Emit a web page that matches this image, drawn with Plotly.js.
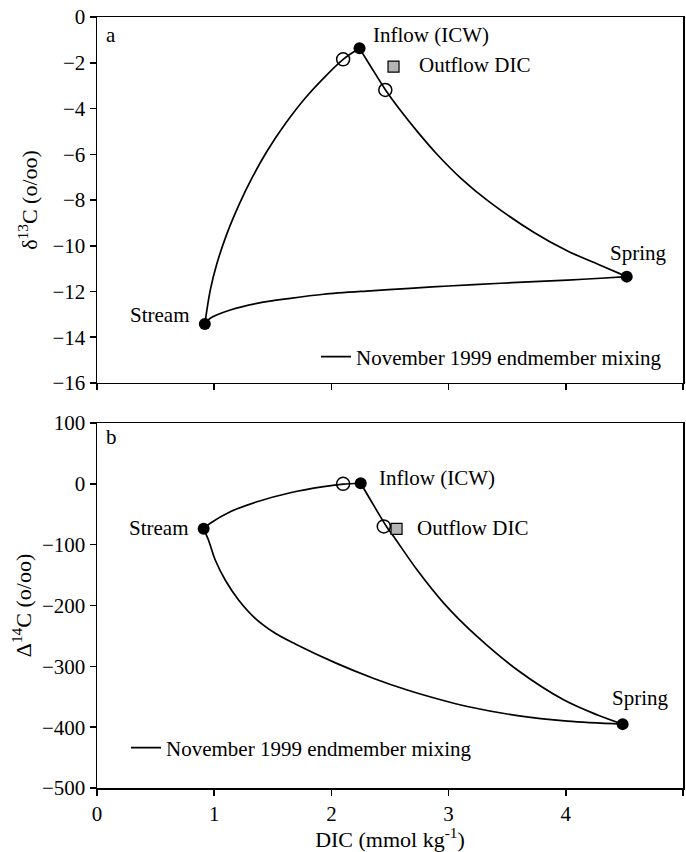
<!DOCTYPE html>
<html>
<head>
<meta charset="utf-8">
<script src="https://cdn.plot.ly/plotly-3.0.1.min.js"></script>
<style>html,body{margin:0;padding:0;background:#fff;}</style>
</head>
<body>
<div id="chart" style="width:686px;height:852px;"></div>
<script>
// ---------- Panel a: delta13C vs DIC ----------
const endNames = ["Stream", "Inflow (ICW)", "Spring"];
const a_endDIC = [0.92, 2.24, 4.52];
const a_endD13C = [-13.42, -1.37, -11.35];
const a_openDIC = [2.10, 2.46];
const a_openD13C = [-1.85, -3.19];
const a_outDIC = [2.53];
const a_outD13C = [-2.17];

// mixing curves
const a_streamInflowDIC = [0.92, 0.966, 1.023, 1.108, 1.214, 1.326, 1.452, 1.608, 1.781, 1.955, 2.111, 2.24];
const a_streamInflowD13C = [-13.42, -11.95, -10.78, -9.48, -8.18, -7.00, -5.86, -4.66, -3.52, -2.56, -1.81, -1.37];
const a_streamSpringDIC = [0.92, 0.966, 1.137, 1.365, 1.650, 1.934, 2.333, 2.67, 3.0, 3.444, 3.729, 4.015, 4.299, 4.52];
const a_streamSpringD13C = [-13.42, -13.17, -12.81, -12.52, -12.30, -12.12, -11.97, -11.86, -11.76, -11.64, -11.57, -11.50, -11.42, -11.35];
const a_inflowSpringDIC = [2.24, 2.333, 2.462, 2.590, 2.732, 2.903, 3.103, 3.345, 3.729, 4.015, 4.299, 4.52];
const a_inflowSpringD13C = [-1.37, -2.14, -3.19, -4.09, -5.00, -6.01, -7.04, -8.07, -9.42, -10.23, -10.86, -11.35];

// ---------- Panel b: Delta14C vs DIC ----------
const b_endDIC = [0.91, 2.25, 4.485];
const b_endD14C = [-74, 1, -395];
const b_openDIC = [2.10, 2.447];
const b_openD14C = [0, -70];
const b_outDIC = [2.556];
const b_outD14C = [-74];

const b_streamInflowDIC = [0.91, 0.966, 1.137, 1.365, 1.650, 1.934, 2.10, 2.25];
const b_streamInflowD14C = [-74, -64.9, -45.8, -29.4, -14.6, -4.7, -0.5, 1];
const b_streamSpringDIC = [0.91, 0.951, 1.009, 1.094, 1.208, 1.350, 1.521, 1.692, 2.02, 2.362, 2.647, 2.932, 3.16, 3.587, 4.015, 4.485];
const b_streamSpringD14C = [-74, -92.3, -125.2, -158.1, -191.0, -221.1, -245.7, -263.3, -293.1, -320, -339, -355, -366, -381, -390, -395];
const b_inflowSpringDIC = [2.25, 2.36, 2.47, 2.533, 2.732, 2.960, 3.245, 3.587, 3.985, 4.271, 4.485];
const b_inflowSpringD14C = [1, -35, -70, -87, -141.7, -196.4, -251.3, -306.0, -355.4, -380.0, -395];

const legendText = "November 1999 endmember mixing";

function joinSeg(list) {
  const out = [];
  list.forEach((s, i) => { if (i > 0) out.push(null); out.push(...s); });
  return out;
}

const FONT = "Liberation Serif, Times New Roman, serif";
const FS = 21;
const lineStyle = {color: "#000", width: 1.7, shape: "spline", smoothing: 0.9};

const traces = [
  {
    x: joinSeg([a_streamInflowDIC, a_streamSpringDIC, a_inflowSpringDIC]),
    y: joinSeg([a_streamInflowD13C, a_streamSpringD13C, a_inflowSpringD13C]),
    mode: "lines", line: lineStyle, name: legendText, xaxis: "x", yaxis: "y",
    legend: "legend", showlegend: true, connectgaps: false, hoverinfo: "skip"
  },
  {
    x: joinSeg([b_streamInflowDIC, b_streamSpringDIC, b_inflowSpringDIC]),
    y: joinSeg([b_streamInflowD14C, b_streamSpringD14C, b_inflowSpringD14C]),
    mode: "lines", line: lineStyle, name: legendText, xaxis: "x2", yaxis: "y2",
    legend: "legend2", showlegend: true, connectgaps: false, hoverinfo: "skip"
  },
  // panel a markers
  {x: a_openDIC, y: a_openD13C, mode: "markers", xaxis: "x", yaxis: "y", showlegend: false,
   marker: {symbol: "circle-open", size: 13, color: "#000", line: {width: 1.5, color: "#000"}}},
  {x: a_endDIC, y: a_endD13C, text: endNames, mode: "markers", xaxis: "x", yaxis: "y", showlegend: false,
   marker: {symbol: "circle", size: 12, color: "#000"}},
  {x: a_outDIC, y: a_outD13C, mode: "markers", xaxis: "x", yaxis: "y", showlegend: false,
   marker: {symbol: "square", size: 11, color: "#b4b4b4", line: {width: 1.2, color: "#000"}}},
  // panel b markers
  {x: b_openDIC, y: b_openD14C, mode: "markers", xaxis: "x2", yaxis: "y2", showlegend: false,
   marker: {symbol: "circle-open", size: 13, color: "#000", line: {width: 1.5, color: "#000"}}},
  {x: b_endDIC, y: b_endD14C, text: endNames, mode: "markers", xaxis: "x2", yaxis: "y2", showlegend: false,
   marker: {symbol: "circle", size: 12, color: "#000"}},
  {x: b_outDIC, y: b_outD14C, mode: "markers", xaxis: "x2", yaxis: "y2", showlegend: false,
   marker: {symbol: "square", size: 11, color: "#b4b4b4", line: {width: 1.2, color: "#000"}}}
];

const axCommon = {
  showline: true, mirror: true, linecolor: "#000", linewidth: 1.5,
  ticks: "outside", ticklen: 6, tickwidth: 1.5, tickcolor: "#000",
  showgrid: false, zeroline: false, tickfont: {family: FONT, size: FS, color: "#000"}
};

function ann(x, y, text, xref, yref, xanchor) {
  return {x: x, y: y, xref: xref, yref: yref, text: text, showarrow: false,
          xanchor: xanchor, yanchor: "middle", font: {family: FONT, size: FS, color: "#000"}};
}

const layout = {
  width: 686, height: 852,
  margin: {l: 97, r: 3, t: 17, b: 64},
  paper_bgcolor: "#fff", plot_bgcolor: "#fff",
  font: {family: FONT, size: FS, color: "#000"},
  xaxis: Object.assign({}, axCommon, {domain: [0, 1], anchor: "y", range: [0, 5], dtick: 1, showticklabels: false}),
  yaxis: Object.assign({}, axCommon, {domain: [0.5253, 1], anchor: "x", range: [-16, 0], dtick: 2,
    title: {text: "δ<sup>13</sup>C (o/oo)", font: {family: FONT, size: 22}, standoff: 8}}),
  xaxis2: Object.assign({}, axCommon, {domain: [0, 1], anchor: "y2", range: [0, 5], dtick: 1,
    title: {text: "DIC (mmol kg<sup>-1</sup>)", font: {family: FONT, size: 22}, standoff: 10}}),
  yaxis2: Object.assign({}, axCommon, {domain: [0, 0.4734], anchor: "x2", range: [-500, 100], dtick: 100,
    title: {text: "Δ<sup>14</sup>C (o/oo)", font: {family: FONT, size: 22}, standoff: 4}}),
  legend: {x: 0.3737, xanchor: "left", y: 0.559, yanchor: "middle", bgcolor: "rgba(0,0,0,0)",
           borderwidth: 0, font: {family: FONT, size: FS, color: "#000"}},
  legend2: {x: 0.0495, xanchor: "left", y: 0.052, yanchor: "middle", bgcolor: "rgba(0,0,0,0)",
            borderwidth: 0, font: {family: FONT, size: FS, color: "#000"}},
  annotations: [
    ann(0.06, -0.79, "a", "x", "y", "left"),
    ann(2.34, -0.79, "Inflow (ICW)", "x", "y", "left"),
    ann(2.73, -2.10, "Outflow DIC", "x", "y", "left"),
    ann(4.62, -10.32, "Spring", "x", "y", "center"),
    ann(0.80, -13.03, "Stream", "x", "y", "right"),
    ann(0.06, 77, "b", "x2", "y2", "left"),
    ann(2.39, 9.6, "Inflow (ICW)", "x2", "y2", "left"),
    ann(2.71, -72.6, "Outflow DIC", "x2", "y2", "left"),
    ann(4.64, -352, "Spring", "x2", "y2", "center"),
    ann(0.795, -72.6, "Stream", "x2", "y2", "right")
  ]
};

Plotly.newPlot("chart", traces, layout, {displayModeBar: false, staticPlot: true});
</script>
</body>
</html>
